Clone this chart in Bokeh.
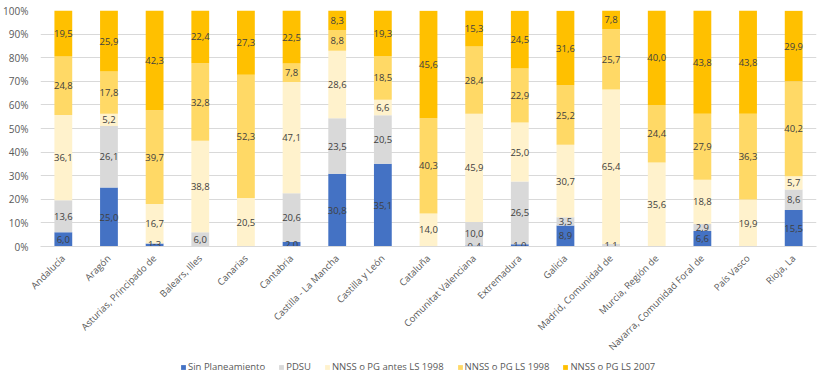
import math
from bokeh.plotting import figure
from bokeh.layouts import column
from bokeh.models import ColumnDataSource, FactorRange, Legend, LegendItem, NumeralTickFormatter, Range1d
from bokeh.core.properties import value
from bokeh.embed import file_html
from bokeh.resources import INLINE

regions = ["Andalucía", "Aragón", "Asturias, Principado de", "Balears, Illes", "Canarias",
           "Cantabria", "Castilla - La Mancha", "Castilla y León", "Cataluña",
           "Comunitat Valenciana", "Extremadura", "Galicia", "Madrid, Comunidad de",
           "Murcia, Región de", "Navarra, Comunidad Foral de", "País Vasco", "Rioja, La"]

sin_planeamiento = [6.0, 25.0, 1.3, 0.0, 0.0, 2.0, 30.8, 35.1, 0.0, 0.4, 1.0, 8.9, 0.0, 0.0, 6.6, 0.0, 15.5]
pdsu = [13.6, 26.1, 0.0, 6.0, 0.0, 20.6, 23.5, 20.5, 0.0, 10.0, 26.5, 3.5, 1.1, 0.0, 2.9, 0.0, 8.6]
nnss_antes = [36.1, 5.2, 16.7, 38.8, 20.5, 47.1, 28.6, 6.6, 14.0, 45.9, 25.0, 30.7, 65.4, 35.6, 18.8, 19.9, 5.7]
nnss_1998 = [24.8, 17.8, 39.7, 32.8, 52.3, 7.8, 8.8, 18.5, 40.3, 28.4, 22.9, 25.2, 25.7, 24.4, 27.9, 36.3, 40.2]
nnss_2007 = [19.5, 25.9, 42.3, 22.4, 27.3, 22.5, 8.3, 19.3, 45.6, 15.3, 24.5, 31.6, 7.8, 40.0, 43.8, 43.8, 29.9]

series_keys = ["s1", "s2", "s3", "s4", "s5"]
series_names = ["Sin Planeamiento", "PDSU", "NNSS o PG antes LS 1998", "NNSS o PG LS 1998", "NNSS o PG LS 2007"]
series_vals = [sin_planeamiento, pdsu, nnss_antes, nnss_1998, nnss_2007]
colors = ["#4472C4", "#D9D9D9", "#FFF2CC", "#FFD966", "#FFC000"]

data = {"region": regions}
for k, v in zip(series_keys, series_vals):
    data[k] = [x / 100.0 for x in v]
src = ColumnDataSource(data)

W = 827
p = figure(width=W, height=361, x_range=FactorRange(*regions, range_padding=0), y_range=(0, 1),
           output_backend="svg", toolbar_location=None,
           min_border_left=38, min_border_right=11, min_border_top=10, min_border_bottom=115)
p.outline_line_color = None
p.background_fill_color = "white"

rs = p.vbar_stack(series_keys, x="region", width=0.39, color=colors, source=src, line_width=0)

# data labels
lx, ly, lt = [], [], []
for i, r in enumerate(regions):
    base = 0.0
    for vals in series_vals:
        v = vals[i]
        lx.append(r)
        ly.append((base + v / 2.0) / 100.0)
        lt.append("-" if v == 0 else f"{v:.1f}".replace(".", ","))
        base += v
lsrc = ColumnDataSource(dict(x=lx, y=ly, t=lt))
p.text(x="x", y="y", text="t", source=lsrc, text_align="center", text_baseline="middle",
       text_font=value("Open Sans"), text_font_size="9.5px", text_color="#404040")

p.yaxis.ticker = [i / 10 for i in range(11)]
p.yaxis.formatter = NumeralTickFormatter(format="0%")
p.yaxis.axis_line_color = None
p.yaxis.major_tick_line_color = None
p.yaxis.minor_tick_line_color = None
p.yaxis.major_label_text_font = "Open Sans"
p.yaxis.major_label_text_font_size = "10px"
p.yaxis.major_label_text_color = "#595959"
p.yaxis.major_label_standoff = 6

p.xaxis.axis_line_color = "#D9D9D9"
p.xaxis.major_tick_line_color = None
p.xaxis.minor_tick_line_color = None
p.xaxis.major_label_orientation = math.pi / 4
p.xaxis.major_label_text_font = "Open Sans"
p.xaxis.major_label_text_font_size = "9.5px"
p.xaxis.major_label_text_color = "#595959"
p.xaxis.major_label_standoff = 4

p.xgrid.grid_line_color = None
p.ygrid.grid_line_color = "#D9D9D9"

# legend strip below the chart
lg = figure(width=W, height=20, x_range=Range1d(0, W), y_range=Range1d(0, 20),
            x_axis_location=None, y_axis_location=None,
            output_backend="svg", toolbar_location=None,
            min_border_left=0, min_border_right=0, min_border_top=0, min_border_bottom=0)
lg.outline_line_color = None
lg.grid.visible = False
hidden = ColumnDataSource(dict(x=[-50], y=[-50]))  # placeholder outside the visible range
dummies = [lg.rect(x="x", y="y", width=1, height=1, fill_color=c, line_color=None, source=hidden)
           for c in colors]
items = [LegendItem(label=n, renderers=[r]) for n, r in zip(series_names, dummies)]
legend = Legend(items=items, orientation="horizontal", location=(140, 8),
                border_line_color=None, background_fill_alpha=0, padding=0, margin=0,
                glyph_width=6, glyph_height=6, label_standoff=2, spacing=13, label_height=12,
                label_text_font="Open Sans", label_text_font_size="9.5px", label_text_color="#595959")
lg.add_layout(legend)

layout = column(p, lg, spacing=0)
open("out.html", "w").write(file_html(layout, INLINE))
